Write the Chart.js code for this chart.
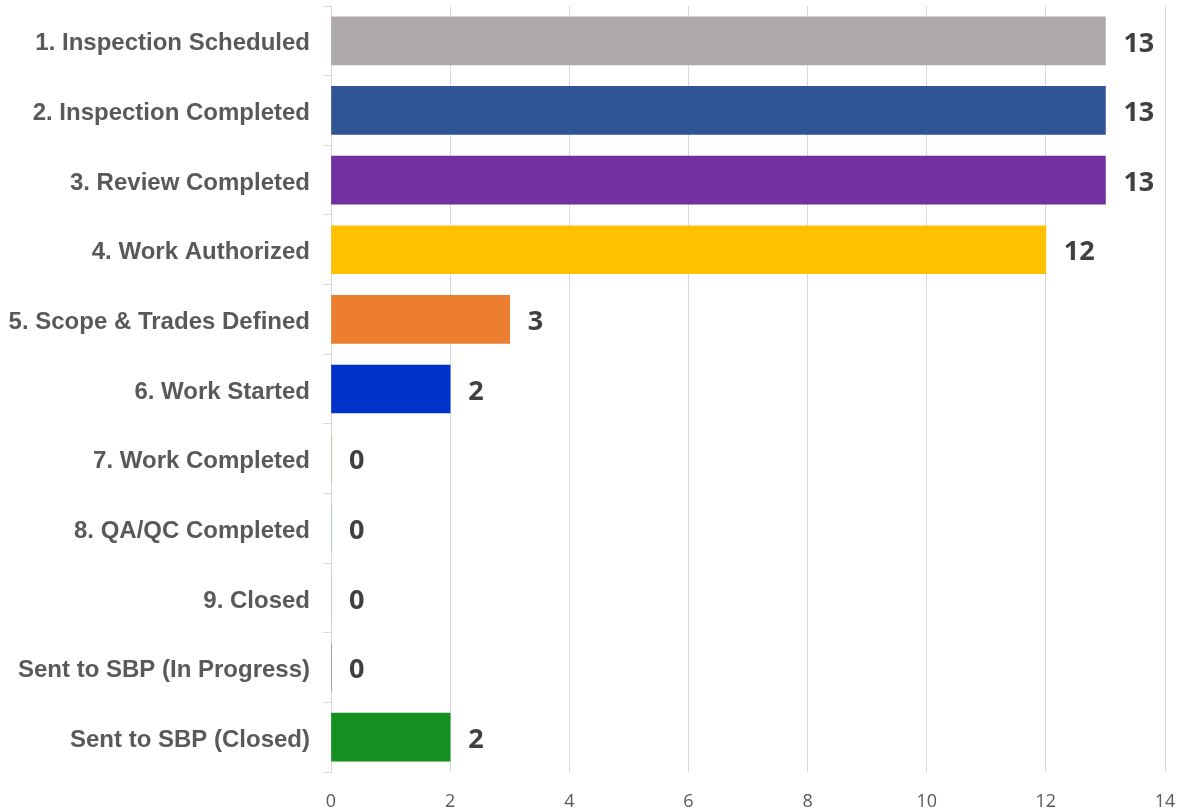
<!DOCTYPE html>
<html>
<head>
<meta charset="utf-8">
<script src="https://cdn.jsdelivr.net/npm/chart.js@4"></script>
<style>
html,body{margin:0;padding:0;background:#fff;}
#wrap{width:1183px;height:812px;position:relative;}
</style>
</head>
<body>
<div id="wrap"><canvas id="c"></canvas></div>
<script>
const categories = [
  "1. Inspection Scheduled",
  "2. Inspection Completed",
  "3. Review Completed",
  "4. Work Authorized",
  "5. Scope & Trades Defined",
  "6. Work Started",
  "7. Work Completed",
  "8. QA/QC Completed",
  "9. Closed",
  "Sent to SBP (In Progress)",
  "Sent to SBP (Closed)"
];
const counts = [13, 13, 13, 12, 3, 2, 0, 0, 0, 0, 2];
const barColors = ["#AEAAAA", "#2F5597", "#7030A0", "#FFC000", "#ED7D31", "#0033CC",
                   "#70AD47", "#5B9BD5", "#A5A5A5", "#264478", "#13901F"];
const xTicks = [0, 2, 4, 6, 8, 10, 12, 14];

const valueLabels = {
  id: 'valueLabels',
  afterDatasetsDraw(chart) {
    const ctx = chart.ctx;
    const meta = chart.getDatasetMeta(0);
    ctx.save();
    ctx.font = 'bold 27px "Open Sans", sans-serif';
    ctx.fillStyle = '#404040';
    ctx.textAlign = 'left';
    ctx.textBaseline = 'middle';
    meta.data.forEach((bar, i) => {
      ctx.fillText(String(counts[i]), bar.x + 18, bar.y + 3);
    });
    ctx.restore();
  }
};

new Chart(document.getElementById('c'), {
  type: 'bar',
  data: {
    labels: categories,
    datasets: [{
      data: counts,
      backgroundColor: barColors,
      borderWidth: 0,
      barThickness: 48
    }]
  },
  options: {
    indexAxis: 'y',
    responsive: true,
    maintainAspectRatio: false,
    animation: false,
    devicePixelRatio: 1,
    layout: { padding: { top: 6, right: 18, left: 0, bottom: 0 } },
    plugins: { legend: { display: false }, tooltip: { enabled: false } },
    scales: {
      x: {
        min: 0, max: 14,
        afterBuildTicks(scale) { scale.ticks = xTicks.map(v => ({ value: v })); },
        afterFit(scale) { scale.height = 40; scale.paddingLeft = 0; scale.paddingRight = 0; },
        grid: { color: '#d9d9d9', lineWidth: 1, drawTicks: false },
        border: { display: false },
        ticks: {
          color: '#595959',
          font: { family: '"Open Sans", sans-serif', size: 18 },
          padding: 19
        }
      },
      y: {
        afterFit(scale) { scale.width = 331; scale.paddingTop = 0; scale.paddingBottom = 0; },
        grid: { offset: true, drawOnChartArea: false, drawTicks: true, tickLength: 8, color: '#d9d9d9' },
        border: { display: true, color: '#d9d9d9', width: 1 },
        ticks: {
          color: '#595959',
          font: { family: '"Liberation Sans", Arial, sans-serif', size: 24, weight: 'bold' },
          padding: 13,
          labelOffset: 3
        }
      }
    }
  },
  plugins: [valueLabels]
});
</script>
</body>
</html>
